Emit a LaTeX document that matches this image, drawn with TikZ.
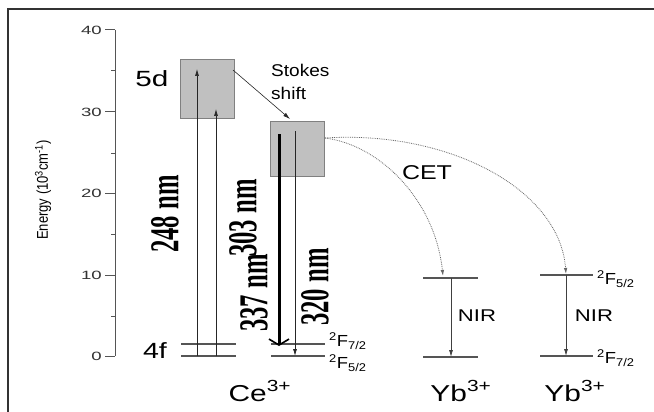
\documentclass[tikz,border=0pt]{standalone}
\usepackage{fontspec}
\setmainfont{Liberation Sans}
\newfontfamily\tnr{Liberation Serif}
\usepackage{graphicx}
\usetikzlibrary{arrows.meta}
\definecolor{lvlgray}{HTML}{555555}
\definecolor{boxfill}{HTML}{C0C0C0}
\definecolor{boxedge}{HTML}{808080}
\definecolor{framegray}{HTML}{333333}
\newcommand\sanst[3]{\scalebox{#2}[1]{\fontsize{#1}{#1}\selectfont #3}}
\newcommand\wlt[1]{\scalebox{0.6}[1]{\fontsize{41}{41}\selectfont\tnr\bfseries #1}}
\tikzset{
  lvl/.style={draw=lvlgray, line width=1.1pt},
  axisline/.style={draw=lvlgray, line width=1pt},
  lvlbox/.style={draw=boxedge, fill=boxfill, line width=1pt},
  uparrow/.style={draw=black!85, line width=0.7pt, -{Latex[length=7pt,width=4pt]}},
  downarrow/.style={draw=black!85, line width=0.8pt, -{Latex[length=7pt,width=4pt]}},
  bigarrow/.style={draw=black, line width=3pt, -{Straight Barb[length=6pt,width=20pt,line width=1.6pt]}},
  cetcurve/.style={draw=black!60, line width=0.8pt, densely dotted, -{Latex[length=6pt,width=3.5pt]}},
  lab/.style={inner sep=0pt},
  wl/.style={inner sep=0pt, rotate=90},
}
\begin{document}
\begin{tikzpicture}[x=1pt, y=-1pt]
\useasboundingbox (0,0) rectangle (654,412);
\fill[white] (0,0) rectangle (654,412);
% frame
\draw[framegray, line width=1.3pt] (8,412) -- (8,9) -- (654,9);
% axis
\draw[axisline] (115,30) -- (115,356);
\foreach \v/\y in {40/30,30/112,20/193,10/275,0/356}{
  \draw[axisline] (105,\y) -- (115,\y);
  \node[lab, anchor=east, text=black!80] at (102,\y) {\sanst{12}{1.55}{\v}};
}
\foreach \y in {71,153,234,316}{
  \draw[axisline] (111,\y) -- (115,\y);
}
\node[lab, rotate=90] (ylab) at (43,190) {\scalebox{1}[1.2]{\fontsize{13}{13}\selectfont Energy (10\textsuperscript{3}cm\textsuperscript{-1})}};
% boxes
\node[lvlbox, minimum width=54pt, minimum height=59pt, inner sep=0pt] (d1) at (207,89.5) {};
\node[lvlbox, minimum width=54pt, minimum height=54pt, inner sep=0pt] (d2) at (297,149) {};
\node[lab] (l5d) at (152,79) {\sanst{22}{1.35}{5d}};
\node[lab] (l4f) at (155,351) {\sanst{22}{1.3}{4f}};
% ground levels Ce left
\coordinate (fa1) at (181,344); \coordinate (fa2) at (236,344);
\coordinate (fb1) at (181,356); \coordinate (fb2) at (236,356);
\draw[lvl] (fa1) -- (fa2);
\draw[lvl] (fb1) -- (fb2);
% ground levels Ce right
\coordinate (ga1) at (271,344); \coordinate (ga2) at (325,344);
\coordinate (gb1) at (271,356); \coordinate (gb2) at (325,356);
\draw[lvl] (ga1) -- (ga2);
\draw[lvl] (gb1) -- (gb2);
\node[lab, anchor=west] (f72a) at (329,341) {\sanst{16}{1.15}{\textsuperscript{2}F\textsubscript{7/2}}};
\node[lab, anchor=west] (f52a) at (329,363) {\sanst{16}{1.15}{\textsuperscript{2}F\textsubscript{5/2}}};
% excitation arrows
\coordinate (a1s) at (197,356); \coordinate (a1e) at (197,69);
\coordinate (a2s) at (216,356); \coordinate (a2e) at (216,109);
\draw[uparrow] (a1s) -- (a1e);
\draw[uparrow] (a2s) -- (a2e);
% emission arrows
\coordinate (e1s) at (279,134); \coordinate (e1e) at (279,346);
\coordinate (e2s) at (295,131); \coordinate (e2e) at (295,356);
\draw[bigarrow] (e1s) -- (e1e);
\draw[downarrow] (e2s) -- (e2e);
% wavelength labels
\node[wl] (w248) at (165,214) {\wlt{248 nm}};
\node[wl] (w303) at (243,218) {\wlt{303 nm}};
\node[wl] (w337) at (254,293) {\wlt{337 nm}};
\node[wl] (w320) at (315,287) {\wlt{320 nm}};
% Stokes shift
\coordinate (ss1) at (233,70); \coordinate (ss2) at (290,119);
\draw[downarrow, line width=0.6pt] (ss1) -- (ss2);
\node[lab, anchor=west] (stk1) at (271,70) {\sanst{17}{1.12}{Stokes}};
\node[lab, anchor=west] (stk2) at (271,93) {\sanst{17}{1.12}{shift}};
% Yb levels
\coordinate (y1a) at (423,278); \coordinate (y1b) at (478,278);
\coordinate (y1c) at (423,357); \coordinate (y1d) at (478,357);
\draw[lvl] (y1a) -- (y1b);
\draw[lvl] (y1c) -- (y1d);
\coordinate (y2a) at (540,275); \coordinate (y2b) at (593,275);
\coordinate (y2c) at (540,356); \coordinate (y2d) at (593,356);
\draw[lvl] (y2a) -- (y2b);
\draw[lvl] (y2c) -- (y2d);
\coordinate (n1s) at (451,278); \coordinate (n1e) at (451,357);
\coordinate (n2s) at (566,275); \coordinate (n2e) at (566,356);
\draw[downarrow, draw=black!75] (n1s) -- (n1e);
\draw[downarrow, draw=black!75] (n2s) -- (n2e);
\node[lab] (nir1) at (477,316) {\sanst{17}{1.3}{NIR}};
\node[lab] (nir2) at (594,316) {\sanst{17}{1.3}{NIR}};
\node[lab, anchor=west] (f52b) at (597,279) {\sanst{16}{1.15}{\textsuperscript{2}F\textsubscript{5/2}}};
\node[lab, anchor=west] (f72b) at (597,358) {\sanst{16}{1.15}{\textsuperscript{2}F\textsubscript{7/2}}};
% CET
\coordinate (cs) at (325,138);
\coordinate (ct1) at (443,276);
\coordinate (ct2) at (566,274);
\draw[cetcurve] (cs) .. controls (380,145) and (435,200) .. (ct1);
\draw[cetcurve] (cs) .. controls (450,130) and (560,190) .. (ct2);
\node[lab] (cet) at (427,173) {\sanst{20}{1.25}{CET}};
% ion labels
\node[lab] (ce) at (260,391) {\sanst{23}{1.3}{Ce\textsuperscript{3+}}};
\node[lab] (yb1) at (461,391) {\sanst{23}{1.3}{Yb\textsuperscript{3+}}};
\node[lab] (yb2) at (575,391) {\sanst{23}{1.3}{Yb\textsuperscript{3+}}};
\end{tikzpicture}
\end{document}
